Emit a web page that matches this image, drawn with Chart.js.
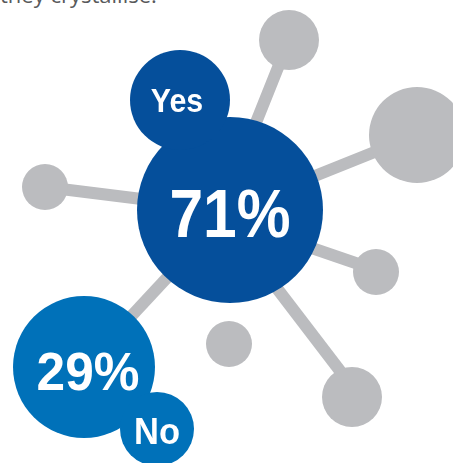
<!DOCTYPE html>
<html>
<head>
<meta charset="utf-8">
<script src="https://cdn.jsdelivr.net/npm/chart.js@4"></script>
<style>
  html, body { margin: 0; padding: 0; background: #ffffff; }
  #wrap { position: relative; width: 453px; height: 463px; overflow: hidden; }
  #intro { position: absolute; left: 0px; top: -17px; font: 22px/22px 'Open Sans', sans-serif; color: #58595b; white-space: nowrap; }
  canvas { position: absolute; left: 0; top: 0; }
</style>
</head>
<body>
<div id="wrap">
  <div id="intro">they crystallise.</div>
  <canvas id="c" width="453" height="463"></canvas>
</div>
<script>
// Answers and their shares (%)
const answers = ["Yes", "No"];
const shares = [71, 29];

// Main bubbles (percentage bubble + label bubble) for each answer
const mainX = [230, 84];
const mainY = [210, 367];
const mainR = [93, 71];
const tagX = [180, 157];
const tagY = [100, 429];
const tagR = [50, 37];

// Decorative grey "atoms"
const atomX = [289, 417, 45, 376, 229, 352];
const atomY = [40, 135, 187, 272, 344, 397];
const atomR = [30, 48, 23, 23, 23, 30];

// Bonds (grey sticks): start and end points
const bondStartX = [221, 230, 230, 230, 240, 230];
const bondStartY = [210, 210, 210, 220, 240, 210];
const bondEndX   = [289, 417, 45, 376, 360, 84];
const bondEndY   = [40, 135, 187, 270, 397, 367];

const blueDark = '#054f9b';
const blueLight = '#0071b9';
const grey = '#bbbcbf';

const datasets = [];

// Blue bubbles (on top)
datasets.push({
  type: 'bubble', order: 0, clip: false,
  data: answers.flatMap((a, i) => [
    { x: mainX[i], y: mainY[i], r: mainR[i] },
    { x: tagX[i], y: tagY[i], r: tagR[i] }
  ]),
  backgroundColor: [blueDark, blueDark, blueLight, blueLight],
  borderWidth: 0, hoverRadius: 0, hoverBorderWidth: 0
});

// Grey atoms
datasets.push({
  type: 'bubble', order: 1, clip: false,
  data: atomX.map((x, i) => ({ x: x, y: atomY[i], r: atomR[i] })),
  backgroundColor: grey, borderWidth: 0, hoverRadius: 0, hoverBorderWidth: 0
});

// Bonds
bondStartX.forEach((sx, i) => {
  datasets.push({
    type: 'line', order: 2, clip: false,
    data: [{ x: sx, y: bondStartY[i] }, { x: bondEndX[i], y: bondEndY[i] }],
    borderColor: grey, borderWidth: 12, pointRadius: 0, fill: false
  });
});

// text: [size, horizontal squeeze, baseline offset from bubble centre, x offset]
const pctStyle = [[68, 0.89, 27, 0], [53, 0.97, 23, 4]];
const tagStyle = [[33.5, 0.905, 12, -3], [37.5, 0.92, 15, 0]];

const labelPlugin = {
  id: 'labels',
  afterDatasetsDraw(chart) {
    const ctx = chart.ctx;
    const xs = chart.scales.x, ys = chart.scales.y;
    const draw = (txt, cx, cy, st) => {
      ctx.save();
      ctx.font = 'bold ' + st[0] + 'px "Liberation Sans", Arial, sans-serif';
      ctx.textAlign = 'center';
      ctx.textBaseline = 'alphabetic';
      ctx.fillStyle = '#ffffff';
      ctx.translate(xs.getPixelForValue(cx) + st[3], ys.getPixelForValue(cy) + st[2]);
      ctx.scale(st[1], 1);
      ctx.fillText(txt, 0, 0);
      ctx.restore();
    };
    answers.forEach((a, i) => {
      draw(shares[i] + '%', mainX[i], mainY[i], pctStyle[i]);
      draw(a, tagX[i], tagY[i], tagStyle[i]);
    });
  }
};

new Chart(document.getElementById('c'), {
  type: 'bubble',
  data: { datasets },
  options: {
    responsive: false,
    animation: false,
    events: [],
    layout: { padding: 0, autoPadding: false },
    plugins: { legend: { display: false }, tooltip: { enabled: false } },
    scales: {
      x: { type: 'linear', min: 0, max: 453, display: false },
      y: { type: 'linear', min: 0, max: 463, reverse: true, display: false }
    }
  },
  plugins: [labelPlugin]
});
</script>
</body>
</html>
